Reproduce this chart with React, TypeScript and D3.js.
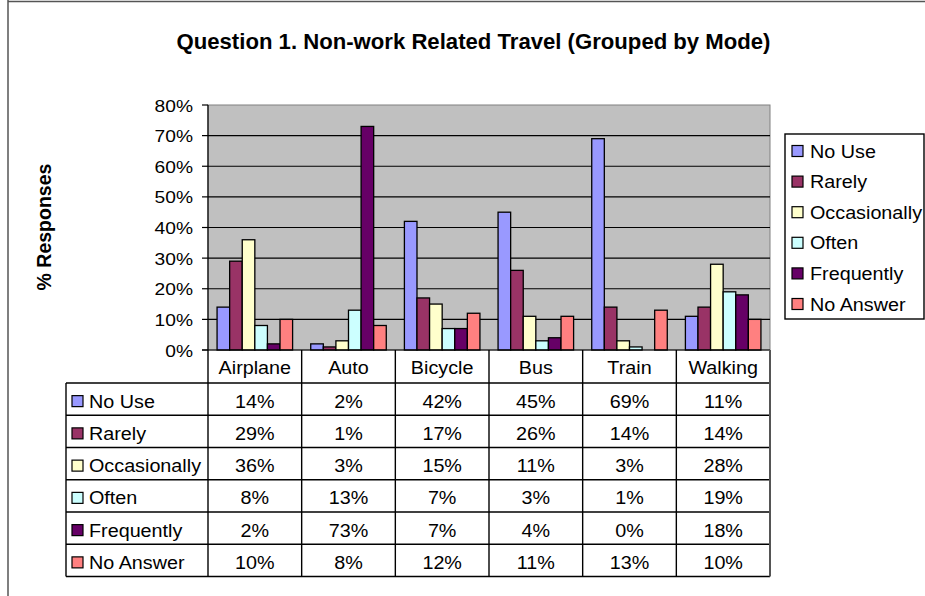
import * as d3 from "d3";

const categories = ["Airplane", "Auto", "Bicycle", "Bus", "Train", "Walking"];
const seriesNames = ["No Use", "Rarely", "Occasionally", "Often", "Frequently", "No Answer"];
const noUse = [14, 2, 42, 45, 69, 11];
const rarely = [29, 1, 17, 26, 14, 14];
const occasionally = [36, 3, 15, 11, 3, 28];
const often = [8, 13, 7, 3, 1, 19];
const frequently = [2, 73, 7, 4, 0, 18];
const noAnswer = [10, 8, 12, 11, 13, 10];
const seriesColors = ["#9999FF", "#993366", "#FFFFCC", "#CCFFFF", "#660066", "#FF8080"];
const yTicks = [0, 10, 20, 30, 40, 50, 60, 70, 80];

const title = "Question 1. Non-work Related Travel (Grouped by Mode)";
const yTitle = "% Responses";

const width = 925;
const height = 596;
const FONT = "'Liberation Sans', Arial, sans-serif";
const SX = 1.13; // text in the picture is a bit wider than tall

const plot = { left: 208, right: 770, top: 105, bottom: 350 };
const tableLeft = 66;
const labelRowBottom = 383;
const rowH = 32.25;

function T(props: { x: number; y: number; size: number; anchor?: string; bold?: boolean; sx?: number; children: any }) {
  const { x, y, size, anchor = "start", bold = false, sx = SX, children } = props;
  return (
    <text
      transform={`translate(${x},${y}) scale(${sx},1)`}
      fontSize={size}
      fontFamily={FONT}
      fontWeight={bold ? "bold" : "normal"}
      textAnchor={anchor}
      fill="#000"
    >
      {children}
    </text>
  );
}

export default function App() {
  const series = [noUse, rarely, occasionally, often, frequently, noAnswer];

  const x0 = d3.scaleBand<string>().domain(categories).range([plot.left, plot.right]).padding(0);
  const x1 = d3
    .scaleBand<string>()
    .domain(seriesNames)
    .range([0, x0.bandwidth()])
    .paddingInner(0)
    .paddingOuter(0.72);
  const y = d3.scaleLinear().domain([0, 80]).range([plot.bottom, plot.top]);

  const tableBottom = labelRowBottom + rowH * seriesNames.length;

  return (
    <svg
      width={width}
      height={height}
      style={{ position: "absolute", left: 0, top: 0, display: "block", background: "#fff" }}
    >
      {/* outer frame */}
      <line x1={8} y1={0} x2={8} y2={height} stroke="#555" strokeWidth={1.5} />
      <line x1={8} y1={1.5} x2={width} y2={1.5} stroke="#555" strokeWidth={1.5} />

      <T x={473.5} y={49} size={21.5} sx={1.03} anchor="middle" bold>
        {title}
      </T>

      <text
        transform={`translate(${51},${227}) rotate(-90)`}
        fontSize={19.5}
        fontWeight="bold"
        fontFamily={FONT}
        textAnchor="middle"
      >
        {yTitle}
      </text>

      {/* plot area */}
      <rect
        x={plot.left}
        y={plot.top}
        width={plot.right - plot.left}
        height={plot.bottom - plot.top}
        fill="#C0C0C0"
        stroke="#808080"
      />
      {yTicks.slice(1, -1).map((t) => (
        <line key={t} x1={plot.left} x2={plot.right} y1={y(t)} y2={y(t)} stroke="#000" strokeWidth={1.2} />
      ))}

      {/* bars */}
      {categories.map((c, ci) => (
        <g key={c} transform={`translate(${x0(c)},0)`}>
          {seriesNames.map((s, si) =>
            series[si][ci] > 0 ? (
              <rect
                key={s}
                x={x1(s)}
                y={y(series[si][ci])}
                width={x1.bandwidth()}
                height={y(0) - y(series[si][ci])}
                fill={seriesColors[si]}
                stroke="#000"
                strokeWidth={1.3}
              />
            ) : null
          )}
        </g>
      ))}

      {/* y axis */}
      <line x1={plot.left} x2={plot.left} y1={plot.top} y2={plot.bottom} stroke="#000" strokeWidth={1.2} />
      <line x1={202} x2={plot.right} y1={plot.bottom} y2={plot.bottom} stroke="#000" strokeWidth={1.2} />
      {yTicks.map((t) => (
        <g key={t}>
          <line x1={202} x2={plot.left} y1={y(t)} y2={y(t)} stroke="#000" strokeWidth={1.2} />
          <T x={193} y={y(t) + 6.5} size={17} anchor="end">
            {t + "%"}
          </T>
        </g>
      ))}

      {/* category labels + data table */}
      {categories.map((c) => (
        <T key={c} x={x0(c)! + x0.bandwidth() / 2} y={373.5} size={17.5} anchor="middle">
          {c}
        </T>
      ))}
      {seriesNames.map((s, si) => {
        const top = labelRowBottom + si * rowH;
        const cy = top + rowH / 2;
        return (
          <g key={s}>
            <rect x={72} y={cy - 3.5} width={11} height={11} fill={seriesColors[si]} stroke="#000" strokeWidth={1.2} />
            <T x={89} y={cy + 8.5} size={17.5}>
              {s}
            </T>
            {categories.map((c, ci) => (
              <T key={c} x={x0(c)! + x0.bandwidth() / 2} y={cy + 8.5} size={17.5} anchor="middle">
                {series[si][ci] + "%"}
              </T>
            ))}
          </g>
        );
      })}
      {d3.range(seriesNames.length + 1).map((i) => (
        <line
          key={i}
          x1={tableLeft}
          x2={plot.right}
          y1={labelRowBottom + i * rowH}
          y2={labelRowBottom + i * rowH}
          stroke="#000"
          strokeWidth={1.4}
        />
      ))}
      <line x1={tableLeft} x2={tableLeft} y1={labelRowBottom} y2={tableBottom} stroke="#000" strokeWidth={1.4} />
      {categories.map((c) => (
        <line key={c} x1={x0(c)} x2={x0(c)} y1={plot.bottom} y2={tableBottom} stroke="#000" strokeWidth={1.4} />
      ))}
      <line x1={plot.right} x2={plot.right} y1={plot.bottom} y2={tableBottom} stroke="#555" strokeWidth={2} />

      {/* legend */}
      <rect x={785} y={134} width={139} height={185} fill="#fff" stroke="#000" strokeWidth={1.4} />
      {seriesNames.map((s, si) => {
        const cy = 151 + si * 30.6;
        return (
          <g key={s}>
            <rect x={792} y={cy - 5.5} width={11} height={11} fill={seriesColors[si]} stroke="#000" strokeWidth={1.2} />
            <T x={810} y={cy + 6.5} size={17.5}>
              {s}
            </T>
          </g>
        );
      })}
    </svg>
  );
}
